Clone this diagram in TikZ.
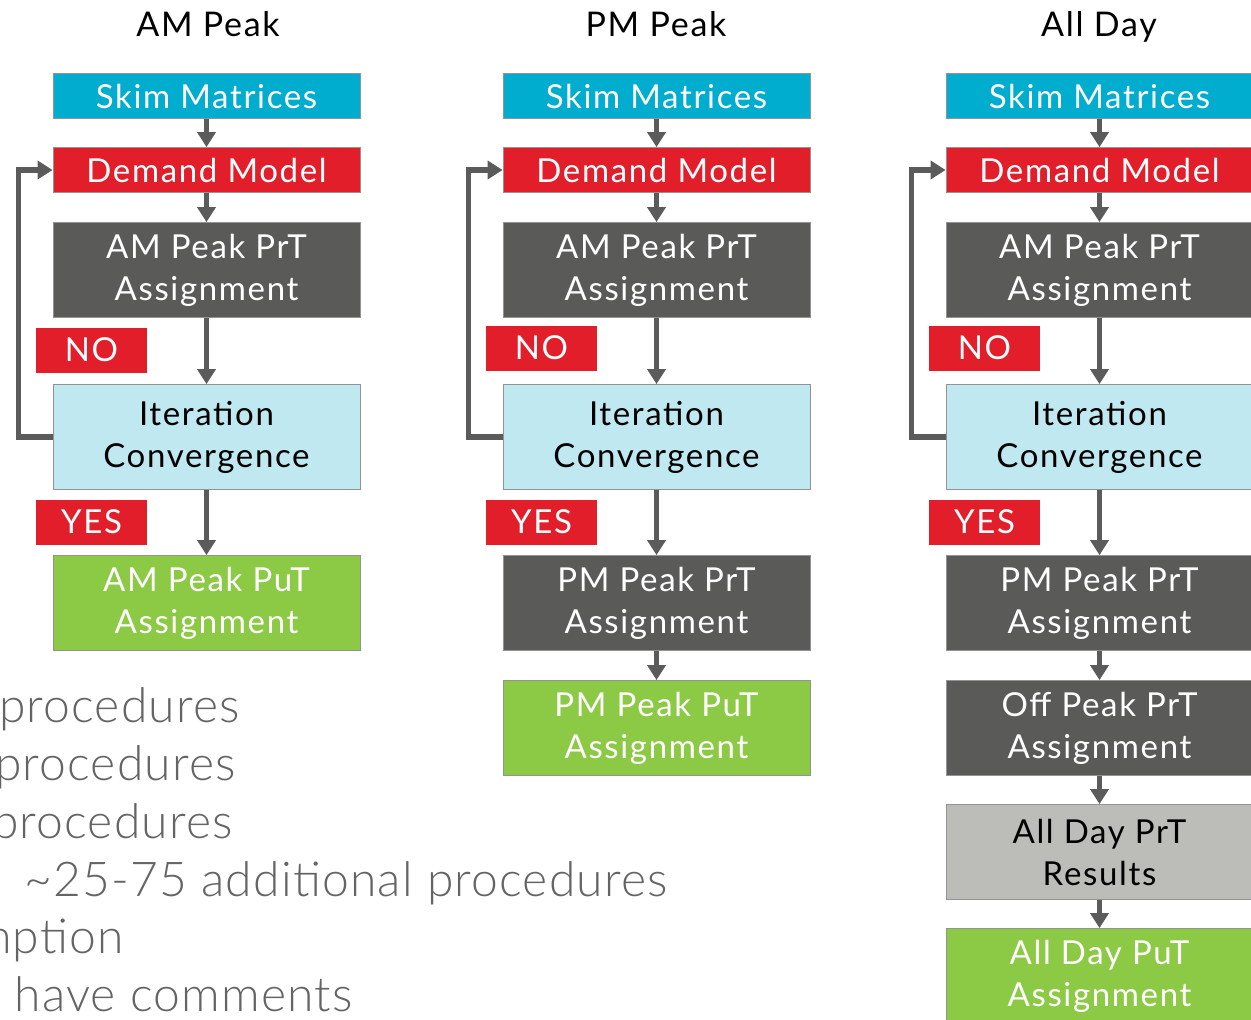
\documentclass[tikz,border=0pt]{standalone}
\usepackage{fontspec}
\setmainfont{Lato}[LetterSpace=5]
\IfFontExistsTF{Lato Light}
	{\newfontfamily\notefam{Lato Light}[LetterSpace=2.5]}
	{\newfontfamily\notefam{Lato}[LetterSpace=2.5]}
\usepackage{tikz}
\usetikzlibrary{arrows.meta}
\definecolor{skimblue}{RGB}{0,173,207}
\definecolor{demandred}{RGB}{226,30,42}
\definecolor{prtgray}{RGB}{90,90,89}
\definecolor{iterblue}{RGB}{192,232,241}
\definecolor{putgreen}{RGB}{140,201,68}
\definecolor{resgray}{RGB}{188,189,184}
\definecolor{flowgray}{RGB}{91,91,91}
\definecolor{notegray}{RGB}{100,100,100}
\newcommand{\boxfont}{\fontsize{33}{42}\selectfont}
\newcommand{\notefont}{\notefam\fontsize{48}{57}\selectfont}

\begin{document}
\begin{tikzpicture}[x=1pt,y=-1pt,
		box/.style={draw=gray!85,line width=0.8pt,minimum width=307pt,align=center,inner sep=0pt,font=\boxfont},
		short/.style={box,minimum height=45pt},
		tall/.style={box,minimum height=95pt},
		skim/.style={short,fill=skimblue,text=white},
		demand/.style={short,fill=demandred,text=white},
		prt/.style={tall,fill=prtgray,text=white},
		iter/.style={box,minimum height=105pt,fill=iterblue,text=black},
		put/.style={tall,fill=putgreen,text=white},
		result/.style={tall,fill=resgray,text=black},
		tag/.style={fill=demandred,text=white,minimum width=111pt,minimum height=45pt,inner sep=0pt,font=\boxfont},
		flow/.style={draw=flowgray,line width=5.5pt,-{Triangle[width=18pt,length=15pt]}},
		title/.style={anchor=base,font=\fontsize{34}{40}\selectfont},
		note/.style={anchor=base east,text=notegray,inner sep=0pt,font=\notefont}]
	
	\useasboundingbox (0,0) rectangle (1251,1020);
	\clip (0,0) rectangle (1251,1020);
	
	% notes behind the diagram
	\node[note] (n1) at (240,722) {procedures};
	\node[note] (n2) at (236,780) {procedures};
	\node[note] (n3) at (233,838) {procedures};
	\node[note] (n4) at (668,896) {\textasciitilde25-75 additional procedures};
	\node[note] (n5) at (124,953) {mption};
	\node[note] (n6) at (353,1011) {have comments};
	
	% column titles
	\node[title] (t1) at (208,36) {AM Peak};
	\node[title] (t2) at (656,36) {PM Peak};
	\node[title] (t3) at (1099,36) {All Day};
	
	% AM peak
	\node[skim] (sk1) at (206.5,96) {Skim Matrices};
	\node[demand] (dm1) at (206.5,170) {Demand Model};
	\node[prt] (pa1) at (206.5,270) {AM Peak PrT\\Assignment};
	\node[iter] (it1) at (206.5,437) {Iteration\\Convergence};
	\node[put] (pu1) at (206.5,603) {AM Peak PuT\\Assignment};
	\node[tag] (no1) at (91.5,350) {NO};
	\node[tag] (ye1) at (91.5,522) {YES};
	
	\draw[flow] (sk1) -- (dm1);
	\draw[flow] (dm1) -- (pa1);
	\draw[flow] (pa1) -- (it1);
	\draw[flow] (it1) -- (pu1);
	\draw[flow] (it1.west) -- ++(-34,0) |- (dm1.west);
	
	% PM peak
	\node[skim] (sk2) at (656.5,96) {Skim Matrices};
	\node[demand] (dm2) at (656.5,170) {Demand Model};
	\node[prt] (pa2) at (656.5,270) {AM Peak PrT\\Assignment};
	\node[iter] (it2) at (656.5,437) {Iteration\\Convergence};
	\node[prt] (pp2) at (656.5,603) {PM Peak PrT\\Assignment};
	\node[put] (pu2) at (656.5,728) {PM Peak PuT\\Assignment};
	\node[tag] (no2) at (541.5,348) {NO};
	\node[tag] (ye2) at (541.5,522) {YES};
	
	\draw[flow] (sk2) -- (dm2);
	\draw[flow] (dm2) -- (pa2);
	\draw[flow] (pa2) -- (it2);
	\draw[flow] (it2) -- (pp2);
	\draw[flow] (pp2) -- (pu2);
	\draw[flow] (it2.west) -- ++(-34,0) |- (dm2.west);
	
	% all day
	\node[skim] (sk3) at (1099.5,96) {Skim Matrices};
	\node[demand] (dm3) at (1099.5,170) {Demand Model};
	\node[prt] (pa3) at (1099.5,270) {AM Peak PrT\\Assignment};
	\node[iter] (it3) at (1099.5,437) {Iteration\\Convergence};
	\node[prt] (pp3) at (1099.5,603) {PM Peak PrT\\Assignment};
	\node[prt] (op3) at (1099.5,728) {Off Peak PrT\\Assignment};
	\node[result] (rs3) at (1099.5,852) {All Day PrT\\Results};
	\node[put] (pu3) at (1099.5,976) {All Day PuT\\Assignment};
	\node[tag] (no3) at (984.5,348) {NO};
	\node[tag] (ye3) at (984.5,522) {YES};
	
	\draw[flow] (sk3) -- (dm3);
	\draw[flow] (dm3) -- (pa3);
	\draw[flow] (pa3) -- (it3);
	\draw[flow] (it3) -- (pp3);
	\draw[flow] (pp3) -- (op3);
	\draw[flow] (op3) -- (rs3);
	\draw[flow] (rs3) -- (pu3);
	\draw[flow] (it3.west) -- ++(-34,0) |- (dm3.west);
	
\end{tikzpicture}
\end{document}
